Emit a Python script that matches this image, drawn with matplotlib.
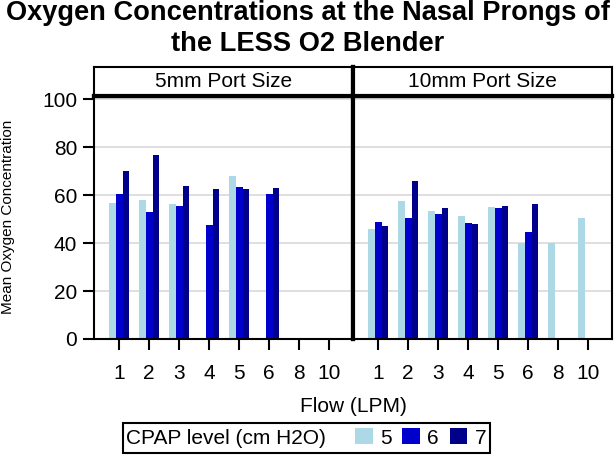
import numpy as np
import matplotlib.pyplot as plt
from matplotlib.patches import Rectangle, Patch

plt.rcParams['font.family'] = ['Liberation Sans', 'DejaVu Sans']

# data
flows = ['1', '2', '3', '4', '5', '6', '8', '10']
panels = ['5mm Port Size', '10mm Port Size']
cpap_levels = ['5', '6', '7']
colors = ['#add8e6', '#0000cd', '#00008b']

nan = np.nan
port5_cpap5 = [56.6, 57.8, 56.3, nan, 68.0, nan, nan, nan]
port5_cpap6 = [60.3, 52.9, 55.7, 47.4, 63.5, 60.3, nan, nan]
port5_cpap7 = [70.3, 76.9, 63.9, 62.8, 62.8, 63.2, nan, nan]
port10_cpap5 = [46.1, 57.5, 53.6, 51.3, 55.0, 40.2, 40.1, 50.3]
port10_cpap6 = [49.0, 50.7, 52.2, 48.3, 54.8, 44.6, nan, nan]
port10_cpap7 = [47.3, 65.8, 54.7, 48.0, 55.3, 56.4, nan, nan]

panel_data = [[port5_cpap5, port5_cpap6, port5_cpap7],
              [port10_cpap5, port10_cpap6, port10_cpap7]]

W, H = 616, 455
fig = plt.figure(figsize=(W / 100, H / 100), dpi=100)


def box(l, t, r, b):
    return [l / W, 1 - b / H, (r - l) / W, (b - t) / H]


x = np.arange(len(flows))
bw = 0.222
lefts = [94, 353]
axes = []
for i, (name, series) in enumerate(zip(panels, panel_data)):
    ax = fig.add_axes(box(lefts[i], 96, lefts[i] + 259, 339))
    for j, vals in enumerate(series):
        ax.bar(x + (j - 1) * bw, vals, width=bw, color=colors[j], zorder=2)
    ax.set_xlim(-0.84, 7.79)
    ax.set_ylim(0, 101.4)
    ax.set_yticks([0, 20, 40, 60, 80, 100])
    ax.yaxis.grid(True, color='#d9d9d9', lw=1.2, zorder=0)
    ax.set_axisbelow(True)
    ax.set_xticks(x)
    ax.set_xticklabels(flows)
    ax.tick_params(axis='x', length=8, width=1.5, pad=10, labelsize=15)
    ax.tick_params(axis='y', length=8, width=1.5, pad=4, labelsize=15)
    for s in ['left', 'right', 'bottom']:
        ax.spines[s].set_linewidth(1.5)
    ax.spines['top'].set_linewidth(3)
    if i == 1:
        ax.tick_params(axis='y', left=False, labelleft=False)
        ax.spines['left'].set_linewidth(3)
    else:
        ax.spines['right'].set_linewidth(3)

    # strip header
    sx = fig.add_axes(box(lefts[i], 67, lefts[i] + 259, 96))
    sx.set_xticks([])
    sx.set_yticks([])
    for s in sx.spines.values():
        s.set_linewidth(1.5)
    sx.spines['bottom'].set_linewidth(3)
    if i == 1:
        sx.spines['left'].set_linewidth(3)
    else:
        sx.spines['right'].set_linewidth(3)
    sx.text(0.5, 0.5, name, ha='center', va='center', fontsize=15,
            transform=sx.transAxes)
    axes.append(ax)

fig.text(0.5, 1 - 0 / H, 'Oxygen Concentrations at the Nasal Prongs of\nthe LESS O2 Blender',
         ha='center', va='top', fontsize=19.6, fontweight='bold', linespacing=1.27)
fig.text(8 / W, 1 - 217 / H, 'Mean Oxygen Concentration', rotation=90,
         ha='center', va='center', fontsize=11)
fig.text(353 / W, 1 - 406 / H, 'Flow (LPM)', ha='center', va='center', fontsize=15)

# legend
fig.patches.append(Rectangle((123 / W, 1 - 453 / H), (490 - 123) / W, 30 / H,
                             transform=fig.transFigure, fill=False, lw=1.5,
                             edgecolor='black'))
fig.text(126 / W, 1 - 438 / H, 'CPAP level (cm H2O)', ha='left', va='center',
         fontsize=15)
handles = [Patch(facecolor=c, edgecolor='none') for c in colors]
fig.legend(handles, cpap_levels, loc='center left',
           bbox_to_anchor=(355 / W, 1 - 438 / H), frameon=False, ncol=3,
           fontsize=15, handlelength=0.86, handleheight=0.8,
           handletextpad=0.35, columnspacing=0.5, borderpad=0, borderaxespad=0)

fig.savefig('out.png', dpi=100)
